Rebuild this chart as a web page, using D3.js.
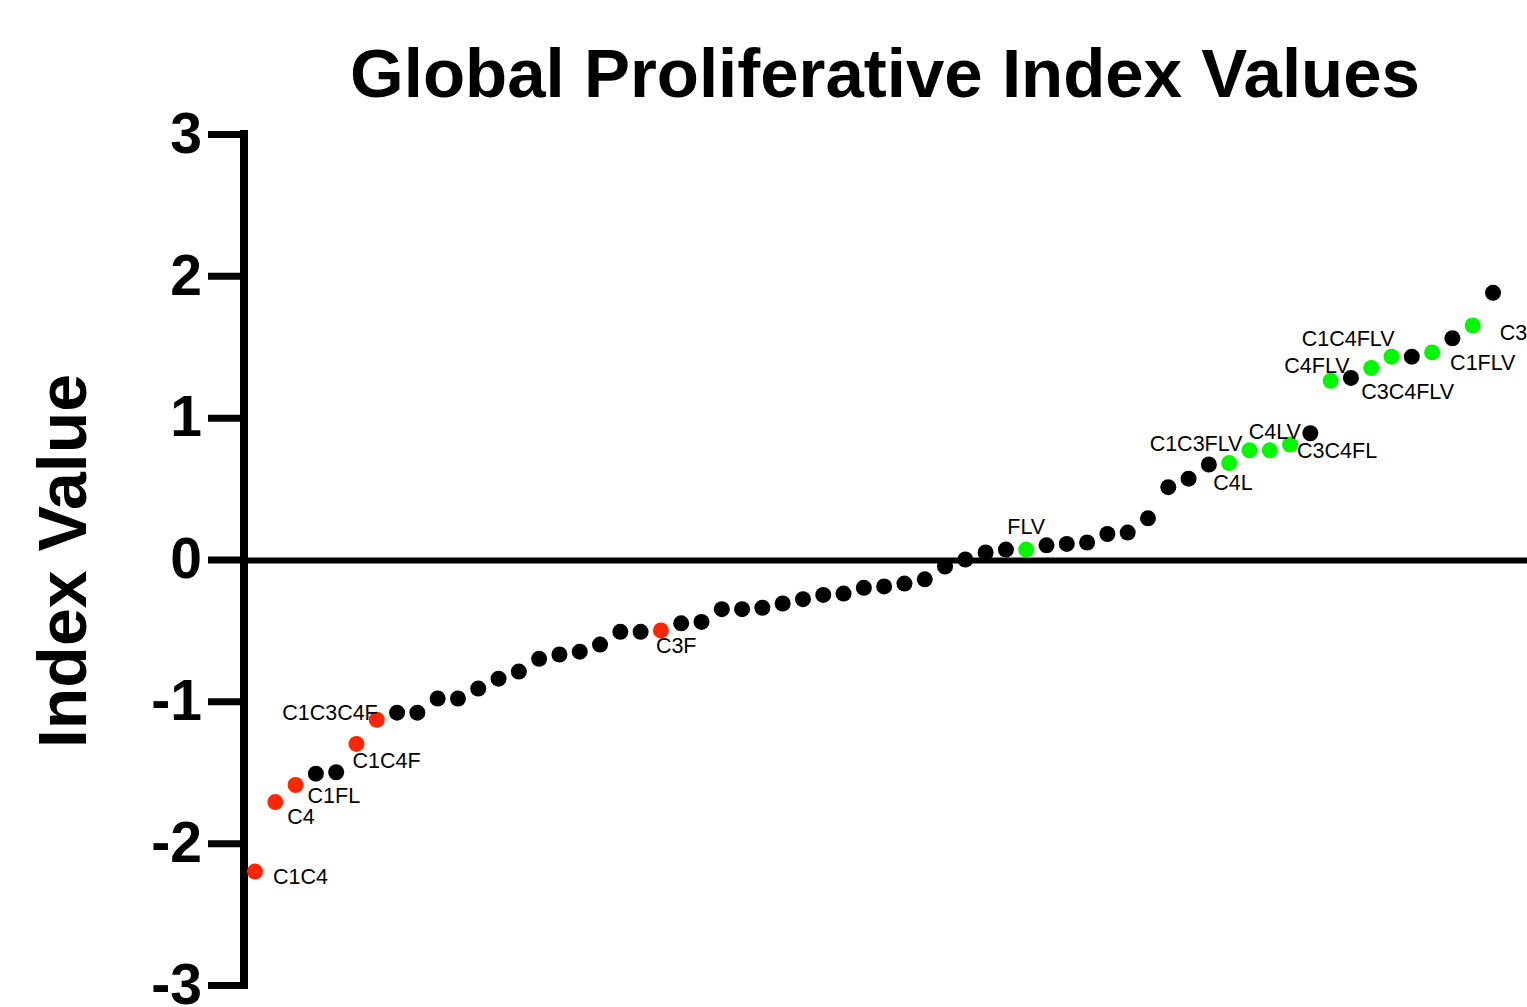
<!doctype html>
<html lang="en">
<head>
  <meta charset="utf-8">
  <title>Global Proliferative Index Values</title>
  <script src="https://cdn.jsdelivr.net/npm/d3@7"></script>
  <style>
    body { margin: 0; background: #fff; }
    text { font-family: "Liberation Sans", Arial, Helvetica, sans-serif; }
  </style>
</head>
<body>
  <svg id="chart" width="1527" height="1007"></svg>
  <script>
    // index values, sorted low to high
    var values = [-2.20, -1.71, -1.59, -1.51, -1.50, -1.30, -1.13, -1.08, -1.08, -0.98,
                  -0.98, -0.91, -0.84, -0.79, -0.70, -0.67, -0.65, -0.60, -0.51, -0.51,
                  -0.50, -0.45, -0.44, -0.35, -0.35, -0.34, -0.31, -0.28, -0.25, -0.24,
                  -0.20, -0.19, -0.17, -0.14, -0.05, 0.00, 0.05, 0.07, 0.07, 0.10,
                  0.11, 0.12, 0.18, 0.19, 0.29, 0.51, 0.57, 0.67, 0.68, 0.77,
                  0.77, 0.81, 0.89, 1.26, 1.28, 1.35, 1.43, 1.43, 1.46, 1.56,
                  1.65, 1.88];
    // positions (index into values) of highlighted combinations
    var redIdx = [0, 1, 2, 5, 6, 20];
    var greenIdx = [38, 48, 49, 50, 51, 53, 55, 56, 58, 60];
    var labelIdx = [0, 1, 2, 5, 6, 20, 38, 48, 49, 50, 51, 53, 55, 56, 58, 60];
    var labelText = ["C1C4", "C4", "C1FL", "C1C4F", "C1C3C4F", "C3F", "FLV", "C4L",
                     "C1C3FLV", "C4LV", "C3C4FL", "C4FLV", "C3C4FLV", "C1C4FLV", "C1FLV", "C3"];
    var yTicks = [-3, -2, -1, 0, 1, 2, 3];

    // label placement relative to its point: [dx, dy, anchor]
    var place = {
      0: [18, 12, "start"], 1: [12, 22, "start"], 2: [12, 18, "start"],
      5: [-4, 24, "start"], 6: [1, 0, "end"], 20: [-5, 23, "start"],
      38: [0, -16, "middle"], 48: [-16, 27, "start"], 49: [-7, 1, "end"],
      50: [-21, -11, "start"], 51: [7, 13, "start"], 53: [19, -8, "end"],
      55: [-10, 31, "start"], 56: [3, -11, "end"], 58: [18, 18, "start"],
      60: [27, 15, "start"]
    };

    var red = "#ff2600", green = "#00f900";
    var svg = d3.select("#chart");

    var x = d3.scaleLinear().domain([0, values.length - 1]).range([255, 1493]);
    var y = d3.scaleLinear().domain([-3, 3]).range([985, 134]);

    // y axis
    var axis = svg.append("g")
      .attr("transform", "translate(244,0)")
      .call(d3.axisLeft(y).tickValues(yTicks).tickSize(36).tickSizeOuter(0).tickPadding(6)
        .tickFormat(d3.format("d")));
    axis.select(".domain").remove();
    axis.append("line")
      .attr("y1", y(3)).attr("y2", y(-3))
      .attr("stroke", "#000").attr("stroke-width", 8).attr("stroke-linecap", "square");
    axis.selectAll(".tick line").attr("stroke", "#000").attr("stroke-width", 7);
    axis.selectAll(".tick text")
      .attr("fill", "#000")
      .style("font-size", "57px").style("font-weight", "bold")
      .style("font-family", "'Liberation Sans', Arial, sans-serif")
      .text(d => d < 0 ? "-" + Math.abs(d) : d);

    // zero line
    svg.append("line")
      .attr("x1", 244).attr("x2", 1527)
      .attr("y1", y(0) + 1).attr("y2", y(0) + 1)
      .attr("stroke", "#000").attr("stroke-width", 6);

    // points
    svg.append("g").selectAll("circle")
      .data(values)
      .enter()
      .append("circle")
        .attr("cx", (d, i) => x(i))
        .attr("cy", d => y(d))
        .attr("r", 8)
        .attr("fill", (d, i) => redIdx.includes(i) ? red : greenIdx.includes(i) ? green : "#000");

    // point labels
    svg.append("g").selectAll("text")
      .data(labelIdx)
      .enter()
      .append("text")
        .attr("x", (d) => x(d) + place[d][0])
        .attr("y", (d) => y(values[d]) + place[d][1])
        .attr("text-anchor", d => place[d][2])
        .style("font-size", "21.5px")
        .text((d, i) => labelText[i]);

    // title
    svg.append("text")
      .attr("x", 885).attr("y", 97)
      .attr("text-anchor", "middle")
      .style("font-size", "69px").style("font-weight", "bold")
      .text("Global Proliferative Index Values");

    // y label
    svg.append("text")
      .attr("transform", "translate(86,561) rotate(-90)")
      .attr("text-anchor", "middle")
      .style("font-size", "68px").style("font-weight", "bold")
      .text("Index Value");
  </script>
</body>
</html>
